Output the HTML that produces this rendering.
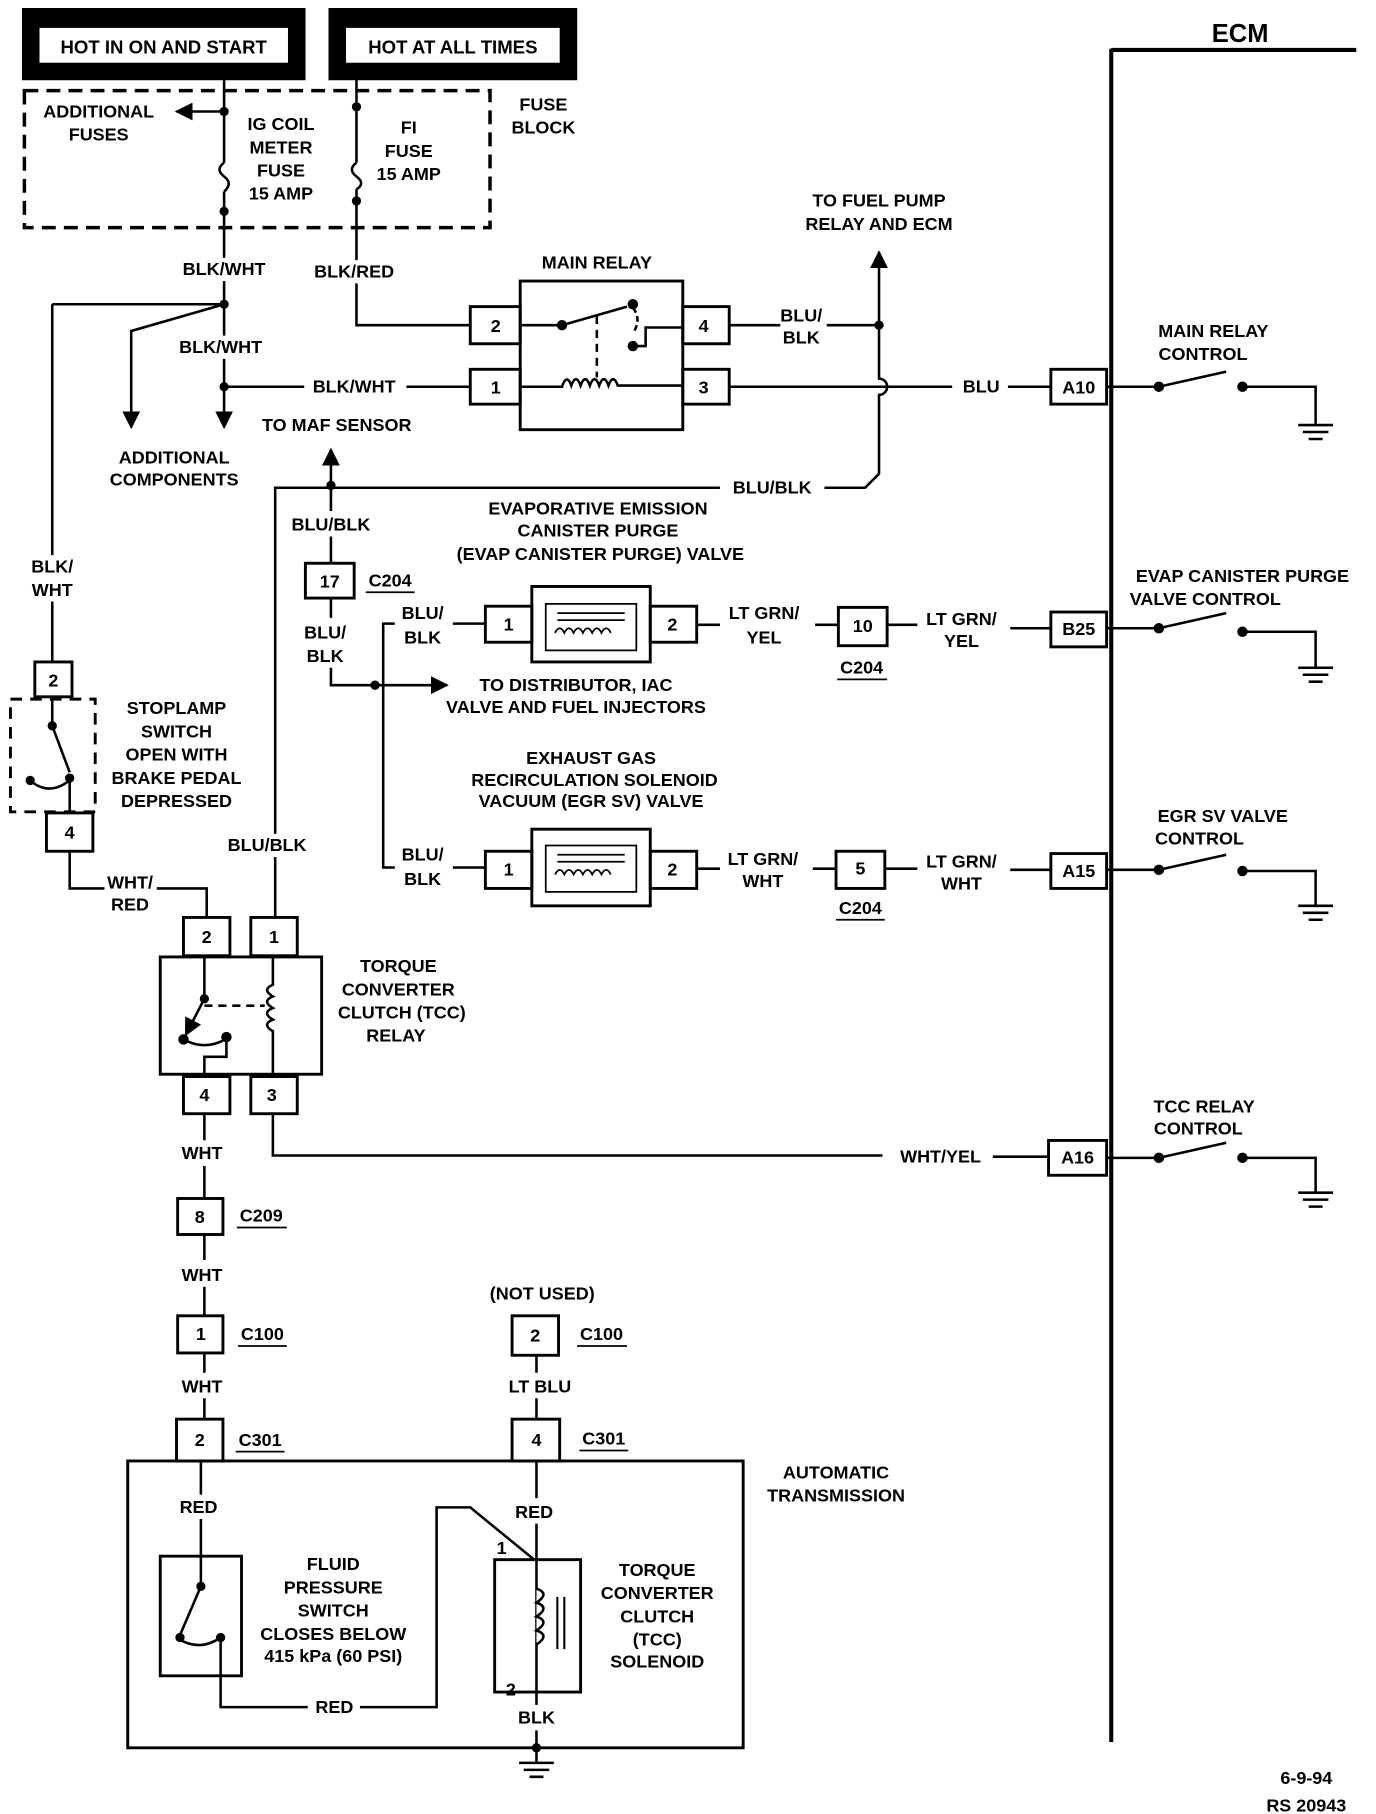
<!DOCTYPE html>
<html><head><meta charset="utf-8"><style>
html,body{margin:0;padding:0;background:#fff}
svg{display:block}
text{font-family:"Liberation Sans",Arial,sans-serif;font-weight:bold;font-size:15.5px;fill:#000;text-anchor:middle}
.l{text-anchor:start}
</style></head><body>
<svg width="1376" height="1814" viewBox="0 0 1185 1562" preserveAspectRatio="none" xmlns="http://www.w3.org/2000/svg">
<defs>
<marker id="ar" viewBox="0 0 10 10" refX="9" refY="5" markerWidth="7" markerHeight="7" orient="auto"><path d="M0,0 L10,5 L0,10 z" fill="#000"/></marker>
</defs>
<g fill="none" stroke="#000" stroke-width="2.2">
<rect x="20" y="8" width="242" height="60" fill="#000"/>
<rect x="33" y="23" width="216" height="32" fill="#fff" stroke-width="2"/>
<rect x="284" y="8" width="212" height="60" fill="#000"/>
<rect x="297" y="23" width="186" height="32" fill="#fff" stroke-width="2"/>
<rect x="21" y="78" width="401" height="118" stroke-width="3" stroke-dasharray="12,7"/>
<path d="M193 68 V140 M193 165 V262"/>
<path d="M193 140 q-8 6 0 12 q8 6 0 13"/>
<path d="M193 96 H152" marker-end="url(#ar)"/>
<path d="M307 68 V140 M307 163 V280 H405"/>
<path d="M307 140 q-8 6 0 12 q8 6 0 11"/>
<path d="M45 262 H193 M45 262 V570"/>
<path d="M193 262 L113 285 V368" marker-end="url(#ar)"/>
<path d="M193 262 V368" marker-end="url(#ar)"/>
<path d="M193 333 H262 M350 333 H405"/>
<rect x="448" y="242" width="140" height="128" stroke-width="2.5"/>
<rect x="405" y="264" width="43" height="32" stroke-width="2.5"/>
<rect x="405" y="318" width="43" height="30" stroke-width="2.5"/>
<rect x="588" y="264" width="40" height="32" stroke-width="2.5"/>
<rect x="588" y="318" width="40" height="30" stroke-width="2.5"/>
<path d="M448 280 H484 L540 264"/>
<path d="M514 272 V325" stroke-dasharray="7,5"/>
<path d="M448 333 H484 q4 -12 8 -1 q4 -11 8 0 q4 -11 8 0 q4 -11 8 0 q4 -11 8 0 q4 -11 8 0 H588"/>
<path d="M545 265 q8 10 0 22" stroke-dasharray="5,3"/>
<path d="M545 298 H556 V282 H588"/>
<path d="M628 280 H672 M712 280 H757"/>
<path d="M757 280 V217" marker-end="url(#ar)"/>
<path d="M757 280 V326 a7 7 0 0 1 0 14 V408 L745 420 H710 M620 420 H237 V790"/>
<path d="M285 418 V387" marker-end="url(#ar)"/>
<path d="M285 418 V440 M285 462 V485"/>
<path d="M628 333 H820 M868 333 H905"/>
<rect x="905" y="318" width="48" height="30" stroke-width="2.5"/>
<path d="M957 42 V1500 M957 43 H1168" stroke-width="3.5"/>
<g>
<path d="M953 333 H998 L1056 320 M1070 333 H1133 V366 M1118 366 H1148 M1122 372 H1144 M1127 378 H1139"/>
<path d="M953 541 H998 L1056 528 M1070 544 H1133 V575 M1118 575 H1148 M1122 581 H1144 M1127 587 H1139"/>
<path d="M953 749 H998 L1056 736 M1070 750 H1133 V780 M1118 780 H1148 M1122 786 H1144 M1127 792 H1139"/>
<path d="M953 997 H998 L1056 984 M1070 997 H1133 V1027 M1118 1027 H1148 M1122 1033 H1144 M1127 1039 H1139"/>
</g>
<rect x="263" y="485" width="42" height="30" stroke-width="2.5"/>
<rect x="418" y="522" width="40" height="31" stroke-width="2.5"/>
<rect x="458" y="505" width="102" height="65" stroke-width="2.5"/>
<rect x="560" y="522" width="40" height="31" stroke-width="2.5"/>
<path d="M470 520 H548 V560 H470 Z M480 528 H538 M480 534 H538 M478 545 q4 -8 8 0 q4 -8 8 0 q4 -8 8 0 q4 -8 8 0 q4 -8 8 0 q4 -8 8 0" stroke-width="1.5"/>
<path d="M600 538 H620 M702 538 H722 M764 538 H790 M870 541 H905"/>
<rect x="722" y="523" width="42" height="33" stroke-width="2.5"/>
<rect x="905" y="527" width="48" height="30" stroke-width="2.5"/>
<path d="M418 537 H390 M340 537 H330 V747 H340 M390 747 H418"/>
<path d="M285 515 V532 M285 575 V590 H385" marker-end="url(#ar)"/>
<rect x="418" y="733" width="40" height="32" stroke-width="2.5"/>
<rect x="458" y="714" width="102" height="66" stroke-width="2.5"/>
<rect x="560" y="733" width="40" height="32" stroke-width="2.5"/>
<path d="M470 728 H548 V768 H470 Z M480 736 H538 M480 742 H538 M478 753 q4 -8 8 0 q4 -8 8 0 q4 -8 8 0 q4 -8 8 0 q4 -8 8 0 q4 -8 8 0" stroke-width="1.5"/>
<path d="M600 748 H620 M700 748 H720 M762 748 H790 M870 749 H905"/>
<rect x="720" y="733" width="42" height="32" stroke-width="2.5"/>
<rect x="905" y="735" width="48" height="30" stroke-width="2.5"/>
<rect x="30" y="570" width="32" height="30" stroke-width="2.5"/>
<rect x="9" y="602" width="73" height="97" stroke-width="2.5" stroke-dasharray="10,7"/>
<rect x="40" y="700" width="40" height="33" stroke-width="2.5"/>
<path d="M45 600 V625 L60 665 M60 670 V700 M26 672 q16 14 34 0" />
<path d="M60 733 V765 H90 M135 765 H178 V790"/>
<rect x="158" y="790" width="40" height="33" stroke-width="2.5"/>
<rect x="216" y="790" width="40" height="33" stroke-width="2.5"/>
<rect x="138" y="824" width="139" height="101" stroke-width="2.5"/>
<rect x="158" y="927" width="40" height="32" stroke-width="2.5"/>
<rect x="216" y="927" width="40" height="32" stroke-width="2.5"/>
<path d="M176 824 V860 M195 893 V910 H176 V927 M158 895 q18 10 36 0" />
<path d="M176 860 L160 891" marker-end="url(#ar)"/>
<path d="M176 866 H228" stroke-dasharray="7,5"/>
<path d="M235 824 V848 q-10 4 0 10 q-10 4 0 10 q-10 4 0 10 q-10 4 0 10 V925"/>
<path d="M235 959 V995 H760 M855 996 H903"/>
<rect x="903" y="982" width="50" height="30" stroke-width="2.5"/>
<path d="M176 959 V982 M176 1004 V1032 M176 1063 V1085 M176 1108 V1133 M176 1165 V1182 M176 1204 V1222"/>
<rect x="153" y="1032" width="39" height="31" stroke-width="2.5"/>
<rect x="153" y="1133" width="39" height="32" stroke-width="2.5"/>
<rect x="152" y="1222" width="40" height="36" stroke-width="2.5"/>
<rect x="441" y="1133" width="40" height="34" stroke-width="2.5"/>
<rect x="441" y="1222" width="41" height="36" stroke-width="2.5"/>
<path d="M462 1167 V1182 M462 1204 V1222"/>
<rect x="110" y="1258" width="530" height="247" stroke-width="2.5"/>
<path d="M173 1258 V1287 M173 1308 V1340"/>
<rect x="138" y="1340" width="70" height="103" stroke-width="2.5"/>
<path d="M173 1340 V1366 L155 1408 M190 1410 V1443 V1470 H265 M310 1470 H376 V1298 H405 L460 1343 M155 1412 q18 10 35 -2"/>
<path d="M462 1258 V1290 M462 1312 V1468 M462 1490 V1505 V1518 M447 1518 H477 M451 1524 H473 M456 1530 H468"/>
<rect x="426" y="1343" width="74" height="114" stroke-width="2.5"/>
<path d="M462 1368 q12 4 0 12 q12 4 0 12 q12 4 0 12 q12 4 0 12" fill="#fff"/>
<path d="M480 1375 V1420 M486 1375 V1420" stroke-width="1.8"/>
</g>
<g fill="#fff">
<rect x="150" y="222" width="86" height="20"/>
<rect x="266" y="224" width="80" height="20"/>
<rect x="150" y="289" width="82" height="20"/>
<rect x="20" y="478" width="50" height="40"/>
<rect x="190" y="718" width="80" height="20"/>
</g>
<g fill="#000">
<circle cx="193" cy="96" r="4"/><circle cx="193" cy="182" r="4"/>
<circle cx="307" cy="92" r="4"/><circle cx="307" cy="173" r="4"/>
<circle cx="193" cy="262" r="4"/><circle cx="193" cy="333" r="4"/>
<circle cx="484" cy="280" r="4.5"/><circle cx="545" cy="262" r="4.5"/><circle cx="545" cy="298" r="4.5"/>
<circle cx="757" cy="280" r="4"/><circle cx="285" cy="418" r="4"/><circle cx="323" cy="590" r="4"/>
<circle cx="998" cy="333" r="4.5"/><circle cx="1070" cy="333" r="4.5"/>
<circle cx="998" cy="541" r="4.5"/><circle cx="1070" cy="544" r="4.5"/>
<circle cx="998" cy="749" r="4.5"/><circle cx="1070" cy="750" r="4.5"/>
<circle cx="998" cy="997" r="4.5"/><circle cx="1070" cy="997" r="4.5"/>
<circle cx="45" cy="625" r="4"/><circle cx="26" cy="672" r="4"/><circle cx="60" cy="670" r="4"/>
<circle cx="176" cy="860" r="4"/><circle cx="158" cy="895" r="4.5"/><circle cx="195" cy="893" r="4.5"/>
<circle cx="173" cy="1366" r="4"/><circle cx="155" cy="1410" r="4"/><circle cx="190" cy="1410" r="4"/>
<circle cx="462" cy="1505" r="4"/>
</g>
<g>
<text x="141" y="46" style="font-size:16px">HOT IN ON AND START</text>
<text x="390" y="46" style="font-size:16px">HOT AT ALL TIMES</text>
<text x="85" y="101">ADDITIONAL</text><text x="85" y="121">FUSES</text>
<text x="242" y="112">IG COIL</text><text x="242" y="132">METER</text><text x="242" y="152">FUSE</text><text x="242" y="172">15 AMP</text>
<text x="352" y="115">FI</text><text x="352" y="135">FUSE</text><text x="352" y="155">15 AMP</text>
<text x="468" y="95">FUSE</text><text x="468" y="115">BLOCK</text>
<text x="757" y="178">TO FUEL PUMP</text><text x="757" y="198">RELAY AND ECM</text>
<text x="1068" y="36" style="font-size:22px">ECM</text>
<text x="193" y="237">BLK/WHT</text><text x="305" y="239">BLK/RED</text>
<text x="514" y="231">MAIN RELAY</text>
<text x="190" y="304">BLK/WHT</text><text x="305" y="338">BLK/WHT</text>
<text x="427" y="286">2</text><text x="427" y="339">1</text><text x="606" y="286">4</text><text x="606" y="339">3</text>
<text x="690" y="277">BLU/</text><text x="690" y="296">BLK</text>
<text x="845" y="338">BLU</text><text x="929" y="339">A10</text>
<text x="1045" y="290">MAIN RELAY</text><text x="1036" y="310">CONTROL</text>
<text x="290" y="371">TO MAF SENSOR</text>
<text x="150" y="399">ADDITIONAL</text><text x="150" y="418">COMPONENTS</text>
<text x="665" y="425">BLU/BLK</text>
<text x="285" y="457">BLU/BLK</text>
<text x="515" y="443">EVAPORATIVE EMISSION</text><text x="515" y="462">CANISTER PURGE</text><text x="517" y="482">(EVAP CANISTER PURGE) VALVE</text>
<text x="284" y="506">17</text><text x="336" y="505">C204</text>
<path d="M315 510 H357" stroke="#000" stroke-width="1.5"/>
<text x="45" y="493">BLK/</text><text x="45" y="513">WHT</text>
<text x="364" y="533">BLU/</text><text x="364" y="554">BLK</text>
<text x="280" y="550">BLU/</text><text x="280" y="570">BLK</text>
<text x="438" y="543">1</text><text x="579" y="543">2</text>
<text x="658" y="533">LT GRN/</text><text x="658" y="554">YEL</text>
<text x="743" y="544">10</text><text x="742" y="580">C204</text><path d="M721 585 H764" stroke="#000" stroke-width="1.5"/>
<text x="828" y="538">LT GRN/</text><text x="828" y="557">YEL</text>
<text x="929" y="547">B25</text>
<text x="1070" y="501">EVAP CANISTER PURGE</text><text x="1038" y="521">VALVE CONTROL</text>
<text x="496" y="595">TO DISTRIBUTOR, IAC</text><text x="496" y="614">VALVE AND FUEL INJECTORS</text>
<text x="46" y="591">2</text>
<text x="152" y="615">STOPLAMP</text><text x="152" y="635">SWITCH</text><text x="152" y="655">OPEN WITH</text><text x="152" y="675">BRAKE PEDAL</text><text x="152" y="695">DEPRESSED</text>
<text x="60" y="722">4</text>
<text x="509" y="658">EXHAUST GAS</text><text x="512" y="677">RECIRCULATION SOLENOID</text><text x="509" y="695">VACUUM (EGR SV) VALVE</text>
<text x="1053" y="708">EGR SV VALVE</text><text x="1033" y="727">CONTROL</text>
<text x="230" y="733">BLU/BLK</text>
<text x="364" y="741">BLU/</text><text x="364" y="762">BLK</text>
<text x="438" y="754">1</text><text x="579" y="754">2</text>
<text x="657" y="745">LT GRN/</text><text x="657" y="764">WHT</text>
<text x="741" y="753">5</text><text x="741" y="787">C204</text><path d="M720 792 H762" stroke="#000" stroke-width="1.5"/>
<text x="828" y="747">LT GRN/</text><text x="828" y="766">WHT</text>
<text x="929" y="755">A15</text>
<text x="112" y="765">WHT/</text><text x="112" y="784">RED</text>
<text x="178" y="812">2</text><text x="236" y="812">1</text>
<text x="343" y="837">TORQUE</text><text x="343" y="857">CONVERTER</text><text x="346" y="877">CLUTCH (TCC)</text><text x="341" y="897">RELAY</text>
<text x="176" y="948">4</text><text x="234" y="948">3</text>
<text x="1037" y="958">TCC RELAY</text><text x="1032" y="977">CONTROL</text>
<text x="810" y="1001">WHT/YEL</text><text x="928" y="1002">A16</text>
<text x="174" y="998">WHT</text>
<text x="172" y="1053">8</text><text x="225" y="1052">C209</text><path d="M204 1057 H247" stroke="#000" stroke-width="1.5"/>
<text x="174" y="1103">WHT</text>
<text x="173" y="1154">1</text><text x="226" y="1154">C100</text><path d="M205 1159 H247" stroke="#000" stroke-width="1.5"/>
<text x="174" y="1199">WHT</text>
<text x="172" y="1245">2</text><text x="224" y="1245">C301</text><path d="M203 1250 H245" stroke="#000" stroke-width="1.5"/>
<text x="467" y="1119">(NOT USED)</text>
<text x="461" y="1155">2</text><text x="518" y="1154">C100</text><path d="M497 1159 H540" stroke="#000" stroke-width="1.5"/>
<text x="465" y="1199">LT BLU</text>
<text x="462" y="1245">4</text><text x="520" y="1244">C301</text><path d="M499 1249 H541" stroke="#000" stroke-width="1.5"/>
<text x="720" y="1273">AUTOMATIC</text><text x="720" y="1293">TRANSMISSION</text>
<text x="171" y="1303">RED</text><text x="460" y="1307">RED</text>
<text x="432" y="1338">1</text><text x="440" y="1460">2</text>
<text x="287" y="1352">FLUID</text><text x="287" y="1372">PRESSURE</text><text x="287" y="1392">SWITCH</text><text x="287" y="1412">CLOSES BELOW</text><text x="287" y="1431">415 kPa (60 PSI)</text>
<text x="566" y="1357">TORQUE</text><text x="566" y="1377">CONVERTER</text><text x="566" y="1397">CLUTCH</text><text x="566" y="1417">(TCC)</text><text x="566" y="1436">SOLENOID</text>
<text x="288" y="1475">RED</text><text x="462" y="1484">BLK</text>
<text x="1125" y="1536">6-9-94</text><text x="1125" y="1560">RS 20943</text>
</g>
</svg>
</body></html>
